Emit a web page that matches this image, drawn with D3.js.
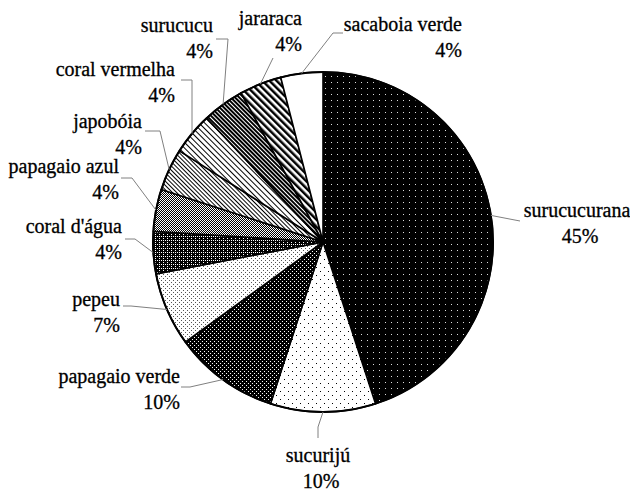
<!DOCTYPE html>
<html>
<head>
<meta charset="utf-8">
<script src="https://cdn.jsdelivr.net/npm/d3@7"></script>
<style>
  html, body { margin: 0; padding: 0; background: #fff; }
  svg { display: block; }
</style>
</head>
<body>
<svg id="chart" width="630" height="492"></svg>
<script>
// Snake species counts, share of the total (%)
const categories = ["surucucurana", "sucurijú", "papagaio verde", "pepeu", "coral d'água",
  "papagaio azul", "japobóia", "coral vermelha", "surucucu", "jararaca", "sacaboia verde"];
const values = [45, 10, 10, 7, 4, 4, 4, 4, 4, 4, 4];
const valueLabels = values.map(v => v + "%");

// Fill pattern id for each slice, in slice order
const fills = ["dotsOnBlack", "sparseDots", "denseDotsOnBlack", "fineDots", "darkGrid",
  "checker", "lightDiag", "thinDiag", "darkDiag", "wideDiag", "plain"];

// Label placement: anchor x, first-line baseline, alignment, leader elbow and end
const labelLayout = [
  { x: 577, y: 217, anchor: "middle", elbow: [520, 221], end: [520, 221] },
  { x: 318, y: 462, anchor: "middle", elbow: [318, 427], end: [318, 438] },
  { x: 180, y: 383, anchor: "end", elbow: [190, 387], end: [181, 387] },
  { x: 120, y: 306, anchor: "end", elbow: [131, 306], end: [123, 306] },
  { x: 122, y: 233, anchor: "end", elbow: [135, 239], end: [125, 239] },
  { x: 119, y: 173, anchor: "end", elbow: [132, 178], end: [121, 178] },
  { x: 142, y: 128, anchor: "end", elbow: [160, 131], end: [145, 131] },
  { x: 175, y: 76, anchor: "end", elbow: [192, 80], end: [181, 80] },
  { x: 213, y: 32, anchor: "end", elbow: [228, 39], end: [216, 39] },
  { x: 302, y: 25, anchor: "end", elbow: [273, 58], end: [273, 58] },
  { x: 462, y: 31, anchor: "end", elbow: [333, 33], end: [343, 33] }
];

const cx = 323, cy = 242, radius = 170;
const fontFamily = "'Liberation Serif', Tinos, 'Times New Roman', Times, 'DejaVu Serif', serif";
const svg = d3.select("#chart");
const defs = svg.append("defs");

function pattern(id, w, h, bg, draw, transform) {
  const p = defs.append("pattern").attr("id", id)
    .attr("patternUnits", "userSpaceOnUse").attr("width", w).attr("height", h);
  if (transform) p.attr("patternTransform", transform);
  p.append("rect").attr("width", w).attr("height", h).attr("fill", bg);
  draw(p);
}
function dots(p, pts, color, size) {
  pts.forEach(([x, y]) => p.append("rect").attr("x", x).attr("y", y)
    .attr("width", size).attr("height", size).attr("fill", color));
}

pattern("dotsOnBlack", 6, 6, "#000", p => dots(p, [[2, 2]], "#ddd", 1));
pattern("sparseDots", 8, 8, "#fff", p => dots(p, [[1, 1], [5, 5]], "#000", 1));
pattern("denseDotsOnBlack", 4, 4, "#000", p => dots(p, [[1, 1], [3, 3]], "#fff", 1));
pattern("fineDots", 4, 4, "#fff", p => dots(p, [[0, 0], [2, 2]], "#555", 1));
pattern("darkGrid", 4, 4, "#000", p => dots(p, [[0, 0], [2, 2], [0, 2]], "#fff", 1));
pattern("checker", 2, 2, "#fff", p => dots(p, [[0, 0], [1, 1]], "#000", 1));
pattern("lightDiag", 3, 10, "#fff", p => p.append("rect").attr("width", 1).attr("height", 10).attr("fill", "#000"), "rotate(-45)");
pattern("thinDiag", 4, 10, "#fff", p => p.append("rect").attr("width", 1).attr("height", 10).attr("fill", "#000"), "rotate(-45)");
pattern("darkDiag", 3, 10, "#fff", p => p.append("rect").attr("width", 2).attr("height", 10).attr("fill", "#000"), "rotate(-45)");
pattern("wideDiag", 5, 10, "#fff", p => p.append("rect").attr("width", 2.5).attr("height", 10).attr("fill", "#000"), "rotate(-45)");
pattern("plain", 4, 4, "#fff", () => {});

const pie = d3.pie().sort(null).value(d => d);
const arcs = pie(values);
const arc = d3.arc().innerRadius(0).outerRadius(radius);

const g = svg.append("g").attr("transform", `translate(${cx},${cy})`);
g.selectAll("path.slice").data(arcs).join("path")
  .attr("class", "slice")
  .attr("d", arc)
  .attr("fill", (d, i) => `url(#${fills[i]})`)
  .attr("stroke", "#000")
  .attr("stroke-width", 1.6)
  .attr("stroke-linejoin", "round");

g.append("circle").attr("r", radius).attr("fill", "none")
  .attr("stroke", "#000").attr("stroke-width", 2);

// Leader lines from each slice's outer edge to its label
svg.selectAll("polyline.leader").data(arcs).join("polyline")
  .attr("class", "leader")
  .attr("points", (d, i) => {
    const a = (d.startAngle + d.endAngle) / 2;
    const start = [cx + radius * Math.sin(a), cy - radius * Math.cos(a)];
    const L = labelLayout[i];
    return [start, L.elbow, L.end].map(p => p.join(",")).join(" ");
  })
  .attr("fill", "none")
  .attr("stroke", "#808080")
  .attr("stroke-width", 1);

const labels = svg.selectAll("g.label").data(arcs).join("g").attr("class", "label")
  .attr("font-family", fontFamily)
  .attr("font-size", 20)
  .attr("fill", "#000")
  .attr("stroke", "#000")
  .attr("stroke-width", 0.3);
labels.append("text")
  .attr("x", (d, i) => labelLayout[i].x)
  .attr("y", (d, i) => labelLayout[i].y)
  .attr("text-anchor", (d, i) => labelLayout[i].anchor)
  .text((d, i) => categories[i]);
labels.append("text")
  .attr("x", (d, i) => labelLayout[i].x + (labelLayout[i].anchor === "middle" ? 3 : 0))
  .attr("y", (d, i) => labelLayout[i].y + 26)
  .attr("text-anchor", (d, i) => labelLayout[i].anchor)
  .text((d, i) => valueLabels[i]);
</script>
</body>
</html>
